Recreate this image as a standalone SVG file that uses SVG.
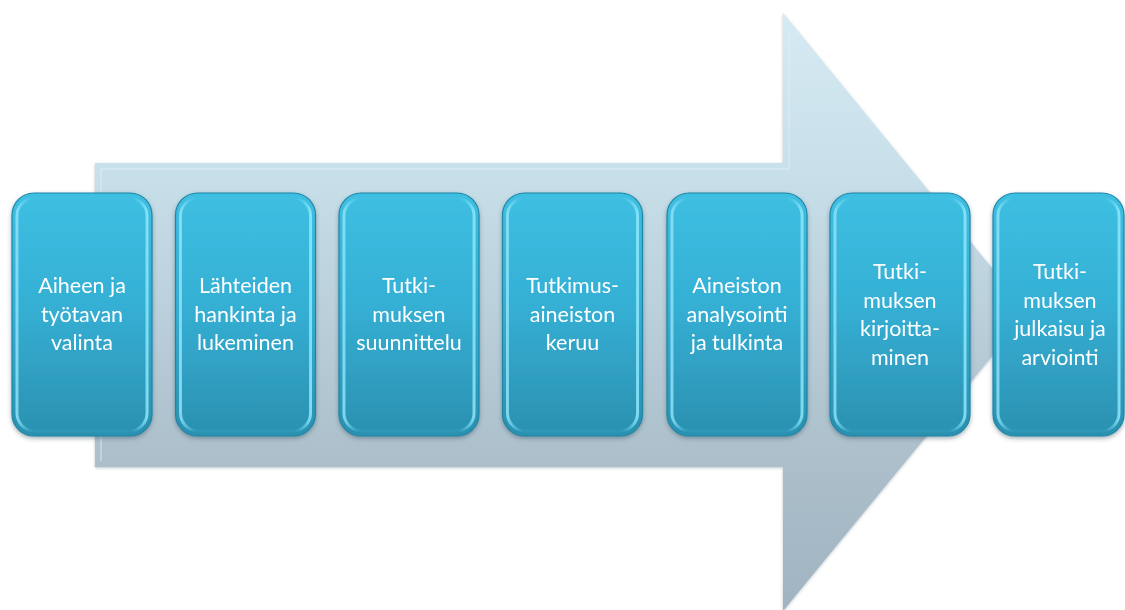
<svg xmlns="http://www.w3.org/2000/svg" width="1125" height="610" viewBox="0 0 1125 610">
<style>
.box{fill:url(#boxg);stroke:#1f86a6;stroke-width:1.2}
.bev{fill:none;stroke:url(#bevg);stroke-width:3;opacity:0.85}
.lbl{font-family:Lato,"Liberation Sans",sans-serif;font-size:21.5px;fill:#ffffff;text-anchor:middle}
</style>
<defs>
<linearGradient id="arrg" gradientUnits="userSpaceOnUse" x1="0" y1="13" x2="0" y2="610">
<stop offset="0" stop-color="#d6eaf2"/>
<stop offset="0.26" stop-color="#c8e0ea"/>
<stop offset="0.76" stop-color="#abbeca"/>
<stop offset="1" stop-color="#a0b4c1"/>
</linearGradient>
<linearGradient id="boxg" x1="0" y1="0" x2="0" y2="1">
<stop offset="0" stop-color="#3dbfe2"/>
<stop offset="0.45" stop-color="#35b0d5"/>
<stop offset="1" stop-color="#2b90b0"/>
</linearGradient>
<linearGradient id="bevg" x1="0" y1="0" x2="1" y2="0">
<stop offset="0" stop-color="#8fe3f7"/>
<stop offset="0.12" stop-color="#55c9ea" stop-opacity="0.1"/>
<stop offset="0.88" stop-color="#55c9ea" stop-opacity="0.1"/>
<stop offset="1" stop-color="#8fe8fa"/>
</linearGradient>
<filter id="sh" x="-10%" y="-10%" width="120%" height="120%">
<feDropShadow dx="0" dy="2" stdDeviation="2" flood-color="#33505e" flood-opacity="0.45"/>
</filter>
<filter id="ash" x="-5%" y="-5%" width="110%" height="110%">
<feDropShadow dx="0" dy="1" stdDeviation="1.5" flood-color="#7d919c" flood-opacity="0.5"/>
</filter>
</defs>
<rect width="1125" height="610" fill="#ffffff"/>
<g id="arrow">
<polygon points="95,163 783,163 783,13 1028,312 783,611 783,467 95,467" fill="url(#arrg)" filter="url(#ash)"/>
<polyline points="101,461 101,169 789,169 789,30" fill="none" stroke="#e2f1f7" stroke-width="2" opacity="0.4"/>
</g>
<g id="connectors"></g>
<g id="n1" filter="url(#sh)">
<rect class="box" x="12" y="193" width="140" height="243" rx="22"/>
<rect class="bev" x="17" y="198" width="130" height="233" rx="18"/>
<text class="lbl"><tspan x="82" y="293">Aiheen ja</tspan><tspan x="82" y="322">työtavan</tspan><tspan x="82" y="350">valinta</tspan></text>
</g>
<g id="n2" filter="url(#sh)">
<rect class="box" x="175.5" y="193" width="140" height="243" rx="22"/>
<rect class="bev" x="180.5" y="198" width="130" height="233" rx="18"/>
<text class="lbl"><tspan x="245.5" y="293">Lähteiden</tspan><tspan x="245.5" y="322">hankinta ja</tspan><tspan x="245.5" y="350">lukeminen</tspan></text>
</g>
<g id="n3" filter="url(#sh)">
<rect class="box" x="339" y="193" width="140" height="243" rx="22"/>
<rect class="bev" x="344" y="198" width="130" height="233" rx="18"/>
<text class="lbl"><tspan x="409" y="293">Tutki-</tspan><tspan x="409" y="322">muksen</tspan><tspan x="409" y="350">suunnittelu</tspan></text>
</g>
<g id="n4" filter="url(#sh)">
<rect class="box" x="502.5" y="193" width="140" height="243" rx="22"/>
<rect class="bev" x="507.5" y="198" width="130" height="233" rx="18"/>
<text class="lbl"><tspan x="572.5" y="293">Tutkimus-</tspan><tspan x="572.5" y="322">aineiston</tspan><tspan x="572.5" y="350">keruu</tspan></text>
</g>
<g id="n5" filter="url(#sh)">
<rect class="box" x="667" y="193" width="140" height="243" rx="22"/>
<rect class="bev" x="672" y="198" width="130" height="233" rx="18"/>
<text class="lbl"><tspan x="737" y="293">Aineiston</tspan><tspan x="737" y="322">analysointi</tspan><tspan x="737" y="350">ja tulkinta</tspan></text>
</g>
<g id="n6" filter="url(#sh)">
<rect class="box" x="830" y="193" width="140" height="243" rx="22"/>
<rect class="bev" x="835" y="198" width="130" height="233" rx="18"/>
<text class="lbl"><tspan x="900" y="279">Tutki-</tspan><tspan x="900" y="307.5">muksen</tspan><tspan x="900" y="336">kirjoitta-</tspan><tspan x="900" y="364.5">minen</tspan></text>
</g>
<g id="n7" filter="url(#sh)">
<rect class="box" x="993" y="193" width="131" height="243" rx="22"/>
<rect class="bev" x="998" y="198" width="121" height="233" rx="18"/>
<text class="lbl"><tspan x="1060" y="279">Tutki-</tspan><tspan x="1060" y="307.5">muksen</tspan><tspan x="1060" y="336">julkaisu ja</tspan><tspan x="1060" y="364.5">arviointi</tspan></text>
</g>
</svg>
